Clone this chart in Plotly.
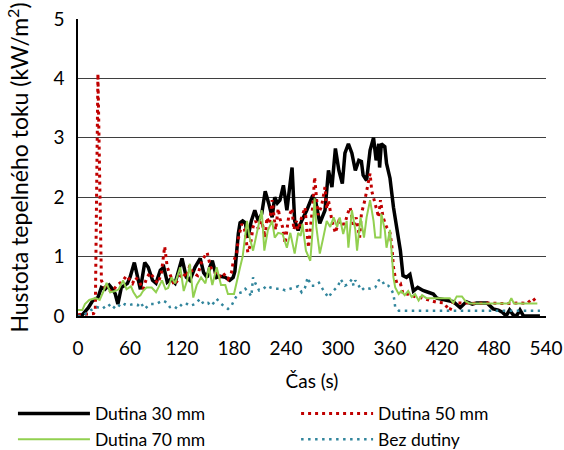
import plotly.graph_objects as go

# Heat flux density over time for different cavity widths
t_30 = [0, 5, 12, 17, 23, 27, 31, 36, 40, 43, 46, 50, 57, 60, 65, 69, 72, 77, 81, 86,
        90, 95, 99, 103, 107, 112, 116, 120, 125, 129, 135, 141, 145, 149, 152, 155, 160, 164, 170, 175,
        179, 181, 185, 187, 190, 193, 196, 200, 204, 208, 212, 216, 220, 224, 227, 230, 233, 237, 241, 244,
        247, 250, 254, 258, 264, 270, 274, 279, 285, 289, 293, 297, 301, 305, 308, 312, 316, 320, 324, 327,
        329, 333, 337, 341, 344, 347, 348, 350, 354, 356, 360, 364, 368, 372, 375, 379, 383, 387, 392, 398,
        404, 410, 414, 420, 425, 433, 441, 448, 455, 460, 472, 479, 485, 490, 494, 498, 502, 506, 510, 514,
        520, 533]
v_30 = [0, 0.02, 0.14, 0.26, 0.31, 0.48, 0.45, 0.52, 0.45, 0.37, 0.2, 0.48, 0.55, 0.65, 0.9, 0.62, 0.45, 0.9, 0.82, 0.6,
        0.55, 0.77, 0.82, 0.57, 0.62, 0.55, 0.75, 0.97, 0.65, 0.6, 0.82, 0.97, 0.73, 0.65, 0.82, 0.93, 0.65, 0.67, 0.65, 0.6,
        0.65, 0.75, 1.39, 1.57, 1.6, 1.57, 1.32, 1.6, 1.78, 1.6, 1.72, 2.1, 1.9, 1.66, 2.0, 1.9, 1.95, 2.2, 1.78, 2.1,
        2.5, 1.6, 1.44, 1.6, 1.78, 2.0, 1.95, 1.56, 1.78, 2.45, 2.17, 2.82, 2.45, 2.23, 2.74, 2.9, 2.74, 2.45, 2.62, 2.6,
        2.37, 2.28, 2.79, 3.0, 2.62, 2.9, 2.5, 2.9, 2.85, 2.57, 2.32, 1.83, 1.44, 1.1, 0.68, 0.65, 0.7, 0.42, 0.48, 0.43,
        0.4, 0.37, 0.3, 0.28, 0.26, 0.24, 0.14, 0.24, 0.2, 0.22, 0.22, 0.12, 0.1, 0.06, 0, 0.1, 0.02, 0, 0.1, 0,
        0, 0]

t_50 = [0, 10, 18, 20, 23, 27, 30, 35, 39, 44, 48, 52, 56, 60, 63, 66, 70, 75, 79, 83,
        87, 92, 96, 100, 103, 106, 111, 116, 121, 125, 129, 132, 138, 143, 149, 153, 158, 163, 167, 173,
        177, 179, 183, 185, 189, 192, 196, 199, 202, 205, 208, 212, 216, 218, 221, 224, 228, 231, 233, 236,
        239, 243, 247, 249, 252, 254, 258, 262, 264, 266, 269, 271, 273, 275, 277, 281, 283, 285, 287, 289,
        293, 297, 301, 305, 308, 311, 314, 318, 321, 325, 327, 331, 335, 337, 339, 343, 347, 349, 352, 356,
        360, 362, 364, 366, 368, 372, 375, 380, 385, 390, 395, 405, 414, 422, 429, 433, 440, 450, 460, 470,
        480, 490, 500, 510, 518, 525, 530]
v_50 = [0.02, 0.03, 0.04, 0.1, 4.08, 0.6, 0.5, 0.45, 0.4, 0.5, 0.55, 0.6, 0.68, 0.6, 0.55, 0.65, 0.6, 0.45, 0.63, 0.73,
        0.65, 0.55, 0.7, 1.17, 0.82, 0.7, 0.52, 0.62, 0.73, 0.65, 0.85, 0.73, 0.68, 0.93, 1.07, 0.82, 0.73, 0.65, 0.73, 0.62,
        0.73, 0.9, 1.05, 1.3, 1.55, 1.47, 1.07, 1.2, 1.5, 1.6, 1.47, 1.6, 1.32, 1.66, 1.55, 1.95, 1.45, 1.81, 1.64, 1.5,
        1.22, 1.66, 1.81, 1.45, 1.6, 1.45, 1.66, 1.83, 1.45, 1.15, 1.6, 1.86, 2.34, 2.05, 1.7, 1.85, 2.05, 2.17, 1.8, 1.95,
        1.6, 1.4, 1.6, 1.55, 1.55, 1.72, 1.83, 1.5, 1.66, 1.32, 1.72, 1.95, 2.25, 2.4, 2.1, 1.9, 1.66, 1.95, 1.66, 1.5,
        1.4, 1.2, 0.82, 0.65, 0.55, 0.55, 0.37, 0.37, 0.34, 0.32, 0.31, 0.27, 0.23, 0.22, 0.09, 0.23, 0.22, 0.22, 0.21, 0.22,
        0.21, 0.21, 0.21, 0.22, 0.21, 0.3, 0.21]

t_70 = [0, 5, 8, 13, 20, 25, 29, 33, 37, 43, 47, 52, 56, 61, 64, 68, 72, 75, 79, 85,
        90, 97, 101, 104, 108, 112, 118, 122, 126, 129, 133, 137, 142, 147, 151, 155, 160, 165, 170, 173,
        180, 184, 187, 190, 193, 195, 198, 202, 207, 212, 215, 219, 224, 227, 231, 236, 241, 245, 250, 254,
        257, 259, 263, 268, 270, 273, 275, 279, 283, 287, 291, 295, 299, 302, 306, 310, 312, 316, 320, 322,
        326, 330, 333, 337, 341, 343, 349, 350, 354, 356, 360, 362, 364, 366, 370, 373, 377, 381, 385, 389,
        393, 397, 402, 410, 420, 429, 433, 437, 443, 447, 452, 460, 470, 480, 490, 497, 500, 503, 510, 520,
        530]
v_70 = [0.1, 0.1, 0.2, 0.27, 0.3, 0.27, 0.4, 0.56, 0.4, 0.42, 0.45, 0.6, 0.45, 0.5, 0.4, 0.31, 0.35, 0.42, 0.48, 0.48,
        0.4, 0.6, 0.45, 0.47, 0.65, 0.55, 0.82, 0.42, 0.6, 0.88, 0.31, 0.52, 0.65, 0.55, 0.82, 0.52, 0.82, 0.52, 0.52, 0.37,
        0.37, 0.6, 0.82, 1.0, 1.32, 1.6, 1.32, 1.1, 1.44, 1.78, 1.1, 1.44, 1.6, 1.32, 1.4, 1.38, 1.15, 1.4, 1.05, 1.4,
        1.35, 1.55, 1.1, 0.93, 1.3, 1.98, 1.5, 1.05, 1.32, 1.6, 1.5, 1.66, 1.5, 1.66, 1.38, 1.6, 1.15, 1.78, 1.45, 1.1,
        1.66, 1.32, 1.66, 1.95, 1.6, 1.32, 1.32, 1.72, 1.45, 1.15, 1.45, 1.05, 0.65, 0.48, 0.37, 0.42, 0.35, 0.42, 0.32, 0.37,
        0.26, 0.35, 0.3, 0.3, 0.3, 0.3, 0.22, 0.33, 0.33, 0.25, 0.21, 0.21, 0.21, 0.21, 0.21, 0.21, 0.3, 0.21, 0.21, 0.21,
        0.21]

t_0 = [0, 5, 10, 15, 22, 28, 35, 40, 45, 50, 54, 58, 64, 69, 72, 77, 83, 90, 95, 98,
       102, 106, 110, 115, 120, 124, 129, 135, 141, 145, 150, 154, 160, 164, 168, 173, 177, 181, 185, 189,
       193, 197, 200, 202, 205, 209, 214, 218, 222, 228, 235, 239, 243, 250, 254, 258, 262, 265, 269, 273,
       278, 282, 285, 289, 293, 297, 300, 303, 308, 312, 316, 318, 320, 324, 327, 331, 337, 343, 347, 350,
       354, 358, 361, 364, 366, 370, 380, 400, 420, 440, 460, 480, 500, 520, 533]
v_0 = [0.0, 0.0, 0.05, 0.1, 0.15, 0.12, 0.2, 0.12, 0.2, 0.15, 0.2, 0.18, 0.2, 0.18, 0.23, 0.12, 0.2, 0.2, 0.24, 0.26,
       0.23, 0.15, 0.17, 0.12, 0.2, 0.22, 0.17, 0.2, 0.29, 0.2, 0.22, 0.17, 0.29, 0.22, 0.17, 0.12, 0.17, 0.29, 0.38, 0.4,
       0.46, 0.4, 0.33, 0.65, 0.54, 0.43, 0.46, 0.51, 0.48, 0.46, 0.46, 0.43, 0.45, 0.48, 0.5, 0.4, 0.48, 0.65, 0.51, 0.51,
       0.56, 0.46, 0.4, 0.31, 0.4, 0.46, 0.5, 0.62, 0.51, 0.54, 0.62, 0.51, 0.6, 0.51, 0.43, 0.48, 0.46, 0.48, 0.6, 0.62,
       0.51, 0.51, 0.46, 0.37, 0.15, 0.09, 0.09, 0.09, 0.09, 0.09, 0.09, 0.09, 0.09, 0.09, 0.09]

x_ticks = [0, 60, 120, 180, 240, 300, 360, 420, 480, 540]
y_ticks = [0, 1, 2, 3, 4, 5]

FONT = "Lato"

fig = go.Figure()
fig.add_trace(go.Scatter(x=t_30, y=v_30, mode="lines", name="Dutina 30 mm",
                         line=dict(color="#000000", width=3.5), legend="legend"))
fig.add_trace(go.Scatter(x=t_50, y=v_50, mode="lines", name="Dutina 50 mm",
                         line=dict(color="#C00000", width=3, dash="3px,4px"), legend="legend2"))
fig.add_trace(go.Scatter(x=t_70, y=v_70, mode="lines", name="Dutina 70 mm",
                         line=dict(color="#92D050", width=2), legend="legend"))
fig.add_trace(go.Scatter(x=t_0, y=v_0, mode="lines", name="Bez dutiny",
                         line=dict(color="#31859C", width=2.5, dash="2.5px,4.5px"), legend="legend2"))

legend_common = dict(orientation="v", yanchor="top", xanchor="left", itemwidth=72,
                     font=dict(family=FONT, size=17.5, color="#000000"),
                     bgcolor="rgba(0,0,0,0)", tracegroupgap=0, itemclick=False)

fig.update_layout(
    width=564, height=450,
    margin=dict(l=78, r=18, t=19, b=134, autoexpand=False),
    paper_bgcolor="white", plot_bgcolor="white",
    font=dict(family=FONT, size=17, color="#000000"),
    showlegend=True,
    legend=dict(x=-0.139, y=-0.268, **legend_common),
    legend2=dict(x=0.466, y=-0.268, **legend_common),
    xaxis=dict(range=[0, 540], tickvals=x_ticks, ticktext=[str(v) for v in x_ticks],
               showgrid=False, zeroline=False, showline=True, linecolor="#000000", linewidth=2,
               ticks="", ticklabelstandoff=14,
               tickfont=dict(family=FONT, size=19),
               title=dict(text="Čas (s)", font=dict(family=FONT, size=19), standoff=17),
               automargin=False),
    yaxis=dict(range=[0, 5], tickvals=y_ticks, showgrid=True, gridcolor="#3f3f3f", gridwidth=1,
               zeroline=False, showline=True, linecolor="#000000", linewidth=1.5,
               ticks="", ticklabelstandoff=8,
               tickfont=dict(family=FONT, size=19),
               title=dict(text="Hustota tepelného toku (kW/m<sup>2</sup>)",
                          font=dict(family=FONT, size=23), standoff=18),
               automargin=False),
)

fig.write_html("out.html")
